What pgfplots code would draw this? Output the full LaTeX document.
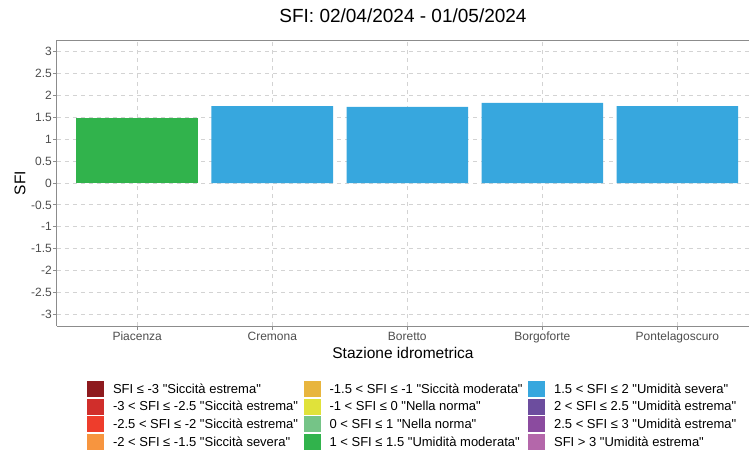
\documentclass[border=0pt]{standalone}
\usepackage{fontspec}
\setmainfont{Liberation Sans}[Ligatures=TeXOff]
\usepackage{pgfplots}
\pgfplotsset{compat=1.18}
\definecolor{axisgray}{HTML}{8C8C8C}
\definecolor{gridgray}{HTML}{D3D3D3}
\definecolor{ticktext}{HTML}{4D4D4D}
\definecolor{c1}{HTML}{8E1A1E}
\definecolor{c2}{HTML}{D02E2B}
\definecolor{c3}{HTML}{EE3D2C}
\definecolor{c4}{HTML}{F7953F}
\definecolor{c5}{HTML}{E8B53E}
\definecolor{c6}{HTML}{E0E23A}
\definecolor{c7}{HTML}{75C487}
\definecolor{c8}{HTML}{31B34C}
\definecolor{c9}{HTML}{37A7DE}
\definecolor{c10}{HTML}{6C4D9E}
\definecolor{c11}{HTML}{8B4B9F}
\definecolor{c12}{HTML}{B467AA}
\pgfplotsset{
  legsq/.style={legend image code/.code={\fill[##1, draw=none] (0pt,-8pt) rectangle (17pt,8pt);}}
}
\begin{document}
\begin{tikzpicture}
\path[use as bounding box] (-57pt,-125pt) rectangle (692pt,326pt);
\begin{axis}[
  at={(0pt,0pt)}, anchor=south west,
  scale only axis, width=692pt, height=286pt,
  xmin=-0.594, xmax=4.53, ymin=-3.27, ymax=3.27,
  axis x line*=box, axis y line*=left,
  axis line style={draw=axisgray, line width=1pt},
  xtick={0,1,2,3,4},
  xticklabels={Piacenza,Cremona,Boretto,Borgoforte,Pontelagoscuro},
  ytick={-3,-2.5,-2,-1.5,-1,-0.5,0,0.5,1,1.5,2,2.5,3},
  yticklabels={-3,-2.5,-2,-1.5,-1,-0.5,0,0.5,1,1.5,2,2.5,3},
  xtick pos=left, ytick pos=left,
  tick align=outside, major tick length=4pt,
  tick style={draw=axisgray, line width=0.8pt},
  xmajorgrids, ymajorgrids,
  major grid style={draw=gridgray, line width=0.8pt, dash pattern=on 4pt off 4pt},
  ticklabel style={font=\fontsize{12}{14}\selectfont, text=ticktext},
  yticklabel style={inner sep=1pt},
  xticklabel style={anchor=base, inner sep=0pt, yshift=-10.6pt},
  title={SFI: 02/04/2024 - 01/05/2024},
  title style={font=\fontsize{19}{22}\selectfont, at={(axis description cs:0.5,1.0385)}, anchor=base},
  xlabel={Stazione idrometrica},
  xlabel style={font=\fontsize{15.5}{18}\selectfont, at={(axis description cs:0.5,-0.0944)}, anchor=center},
  ylabel={SFI},
  ylabel style={font=\fontsize{15.5}{18}\selectfont, at={(axis description cs:-0.0535,0.5)}, anchor=center},
  legend columns=3,
  legend cell align=left,
  legend style={at={(axis description cs:0.0434,-0.193)}, anchor=north west,
    draw=none, fill=none, inner sep=0pt, outer sep=0pt,
    font=\fontsize{13}{15}\selectfont, row sep=1.6pt,
    nodes={inner sep=0pt},
    /tikz/every odd column/.append style={column sep=9pt},
    /tikz/every even column/.append style={column sep=5.5pt}},
]
\addplot[ybar, bar width=0.9, bar shift=0pt, fill=c8, draw=none, forget plot] coordinates {(0,1.49)};
\addplot[ybar, bar width=0.9, bar shift=0pt, fill=c9, draw=none, forget plot] coordinates {(1,1.76) (2,1.74) (3,1.83) (4,1.76)};
\addlegendimage{legsq, fill=c1}
\addlegendentry{SFI ≤ -3 "Siccità estrema"}
\addlegendimage{legsq, fill=c5}
\addlegendentry{-1.5 < SFI ≤ -1 "Siccità moderata"}
\addlegendimage{legsq, fill=c9}
\addlegendentry{1.5 < SFI ≤ 2 "Umidità severa"}
\addlegendimage{legsq, fill=c2}
\addlegendentry{-3 < SFI ≤ -2.5 "Siccità estrema"}
\addlegendimage{legsq, fill=c6}
\addlegendentry{-1 < SFI ≤ 0 "Nella norma"}
\addlegendimage{legsq, fill=c10}
\addlegendentry{2 < SFI ≤ 2.5 "Umidità estrema"}
\addlegendimage{legsq, fill=c3}
\addlegendentry{-2.5 < SFI ≤ -2 "Siccità estrema"}
\addlegendimage{legsq, fill=c7}
\addlegendentry{0 < SFI ≤ 1 "Nella norma"}
\addlegendimage{legsq, fill=c11}
\addlegendentry{2.5 < SFI ≤ 3 "Umidità estrema"}
\addlegendimage{legsq, fill=c4}
\addlegendentry{-2 < SFI ≤ -1.5 "Siccità severa"}
\addlegendimage{legsq, fill=c8}
\addlegendentry{1 < SFI ≤ 1.5 "Umidità moderata"}
\addlegendimage{legsq, fill=c12}
\addlegendentry{SFI > 3 "Umidità estrema"}
\end{axis}
\end{tikzpicture}
\end{document}
